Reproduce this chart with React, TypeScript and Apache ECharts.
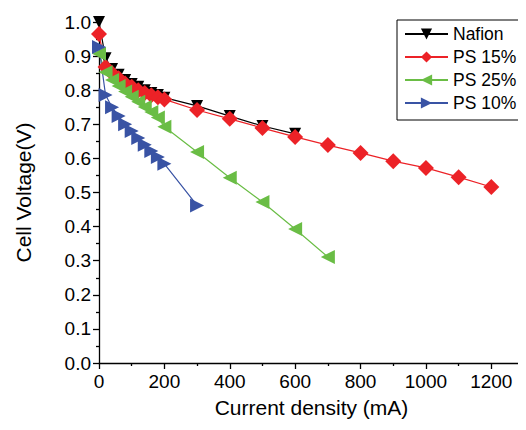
import React, { useEffect, useRef } from "react";
import * as echarts from "echarts";

const currentDense = [0, 20, 40, 60, 80, 100, 120, 140, 160, 180, 200];
const nafionX = [...currentDense, 300, 400, 500, 600];
const nafionY = [1.0, 0.894, 0.862, 0.845, 0.83, 0.818, 0.81, 0.8, 0.792, 0.786, 0.778, 0.754, 0.724, 0.695, 0.672];
const ps15X = [...currentDense, 300, 400, 500, 600, 700, 800, 900, 1000, 1100, 1200];
const ps15Y = [0.965, 0.868, 0.85, 0.835, 0.82, 0.81, 0.8, 0.792, 0.785, 0.779, 0.773, 0.742, 0.716, 0.689, 0.663, 0.639, 0.616, 0.592, 0.572, 0.545, 0.516];
const ps25X = [...currentDense, 300, 400, 500, 600, 700];
const ps25Y = [0.907, 0.853, 0.83, 0.812, 0.796, 0.781, 0.766, 0.751, 0.736, 0.72, 0.693, 0.619, 0.543, 0.472, 0.393, 0.311];
const ps10X = [...currentDense, 300];
const ps10Y = [0.927, 0.786, 0.75, 0.724, 0.7, 0.68, 0.66, 0.64, 0.622, 0.604, 0.584, 0.462];

const seriesNames = ["Nafion", "PS 15%", "PS 25%", "PS 10%"];
const xTickLabels = ["0", "200", "400", "600", "800", "1000", "1200"];

const zip = (xs: number[], ys: number[]) => xs.map((x, i) => [x, ys[i]]);

export default function App() {
  const ref = useRef<HTMLDivElement>(null);
  useEffect(() => {
    if (!ref.current) return;
    const chart = echarts.init(ref.current, undefined, { renderer: "svg" });
    const font = "Liberation Sans, Arial, Helvetica, sans-serif";
    const mk = (name: string, data: number[][], color: string, symbol: string, rot: number, size: number) => ({
      name,
      type: "line",
      data,
      symbol,
      symbolSize: size,
      symbolRotate: rot,
      lineStyle: { color, width: 1.2 },
      itemStyle: { color },
    });
    chart.setOption({
      animation: false,
      textStyle: { fontFamily: font },
      grid: { left: 99, top: 22, right: 2, bottom: 67 },
      legend: {
        orient: "vertical",
        left: 397,
        top: 20,
        padding: [5, 5, 8, 7],
        borderColor: "#000",
        borderWidth: 1,
        itemWidth: 43,
        itemHeight: 14,
        itemGap: 5,
        textStyle: { fontFamily: font, fontSize: 17.5, color: "#000", lineHeight: 18 },
        data: seriesNames,
      },
      xAxis: {
        type: "value",
        min: 0,
        max: 1300,
        interval: 200,
        name: "Current density (mA)",
        nameLocation: "middle",
        nameGap: 34,
        nameTextStyle: { fontFamily: font, fontSize: 21, color: "#000" },
        axisLine: { lineStyle: { color: "#000", width: 1.3 } },
        axisTick: { inside: false, length: 6, lineStyle: { color: "#000", width: 1.3 } },
        minorTick: { show: true, splitNumber: 2, length: 3, lineStyle: { color: "#000", width: 1.3 } },
        axisLabel: {
          showMaxLabel: false,
          margin: 9,
          fontFamily: font,
          fontSize: 19,
          color: "#000",
          formatter: (v: number) => (xTickLabels.includes(String(v)) ? String(v) : ""),
        },
        splitLine: { show: false },
      },
      yAxis: {
        type: "value",
        min: 0,
        max: 1.0,
        interval: 0.1,
        name: "Cell Voltage(V)",
        nameLocation: "middle",
        nameGap: 65,
        nameTextStyle: { fontFamily: font, fontSize: 21, color: "#000" },
        axisLine: { show: true, lineStyle: { color: "#000", width: 1.3 } },
        axisTick: { show: true, length: 6, lineStyle: { color: "#000", width: 1.3 } },
        minorTick: { show: true, splitNumber: 2, length: 3, lineStyle: { color: "#000", width: 1.3 } },
        axisLabel: {
          margin: 8,
          fontFamily: font,
          fontSize: 19,
          color: "#000",
          formatter: (v: number) => v.toFixed(1),
        },
        splitLine: { show: false },
      },
      series: [
        mk("Nafion", zip(nafionX, nafionY), "#000000", "triangle", 180, 12),
        mk("PS 15%", zip(ps15X, ps15Y), "#ec2227", "diamond", 0, 16),
        mk("PS 25%", zip(ps25X, ps25Y), "#6abd45", "triangle", 90, 14),
        mk("PS 10%", zip(ps10X, ps10Y), "#3953a4", "triangle", -90, 14),
      ],
    });
    return () => chart.dispose();
  }, []);
  return <div ref={ref} style={{ width: 526, height: 430, margin: -8 }} />;
}
